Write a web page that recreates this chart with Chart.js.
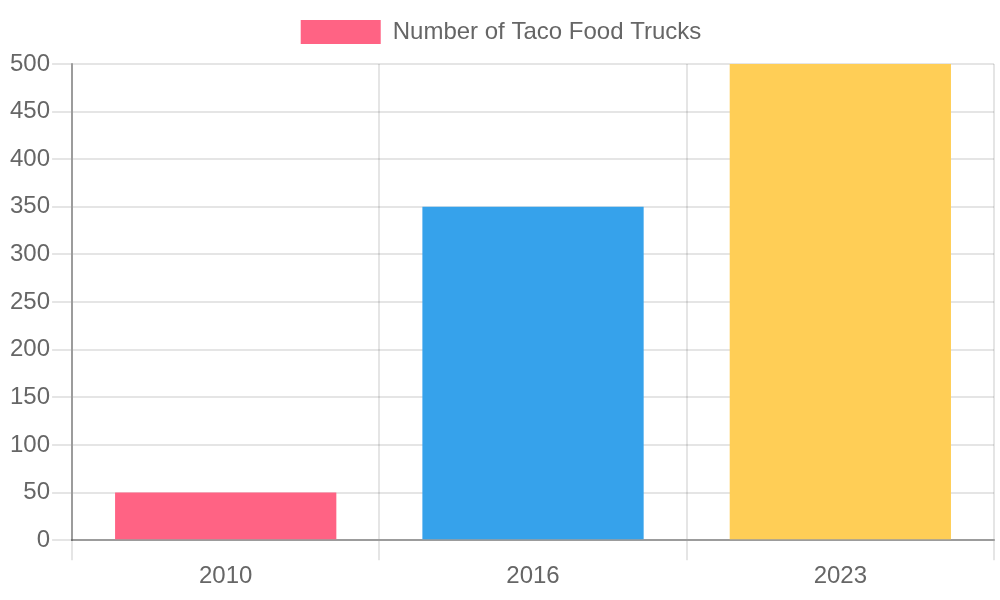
<!DOCTYPE html>
<html>
<head>
<meta charset="utf-8">
<script src="https://cdn.jsdelivr.net/npm/chart.js"></script>
<style>
  html, body { margin: 0; padding: 0; background: #fff; overflow: hidden; }
  #wrap { width: 1000px; height: 600px; }
</style>
</head>
<body>
<div id="wrap"><canvas id="trucks"></canvas></div>
<script>
var years = ['2010', '2016', '2023'];
var truckCounts = [50, 350, 500];
var barColors = ['rgb(255, 99, 132)', 'rgb(54, 162, 235)', 'rgb(255, 206, 86)'];

Chart.defaults.font.family = '"Liberation Sans", Arial, sans-serif';
Chart.defaults.font.size = 24;
Chart.defaults.color = '#666';

// a bit more room under the legend
var legendGap = {
  id: 'legendGap',
  beforeInit: function(chart) {
    var fit = chart.legend.fit;
    chart.legend.fit = function() {
      fit.bind(chart.legend)();
      this.height += 10;
    };
  }
};

var ctx = document.getElementById('trucks');
var barGraph = new Chart(ctx, {
  type: 'bar',
  data: {
    labels: years,
    datasets: [
      {
        label: 'Number of Taco Food Trucks',
        backgroundColor: barColors,
        borderWidth: 0,
        data: truckCounts
      }
    ]
  },
  options: {
    responsive: true,
    maintainAspectRatio: false,
    animation: false,
    layout: { padding: { left: 8, right: 6, bottom: 7 } },
    plugins: {
      legend: {
        labels: { boxWidth: 80, boxHeight: 24, padding: 20 }
      }
    },
    scales: {
      x: {
        ticks: { padding: 2 },
        grid: { offset: true, color: 'rgba(0,0,0,0.1)', lineWidth: 2, tickLength: 20 },
        border: { color: 'rgba(0,0,0,0.32)', width: 2 }
      },
      y: {
        beginAtZero: true,
        max: 500,
        ticks: { stepSize: 50, padding: 2 },
        grid: { color: 'rgba(0,0,0,0.1)', lineWidth: 2, tickLength: 20 },
        border: { color: 'rgba(0,0,0,0.32)', width: 2 }
      }
    }
  },
  plugins: [legendGap]
});
</script>
</body>
</html>
